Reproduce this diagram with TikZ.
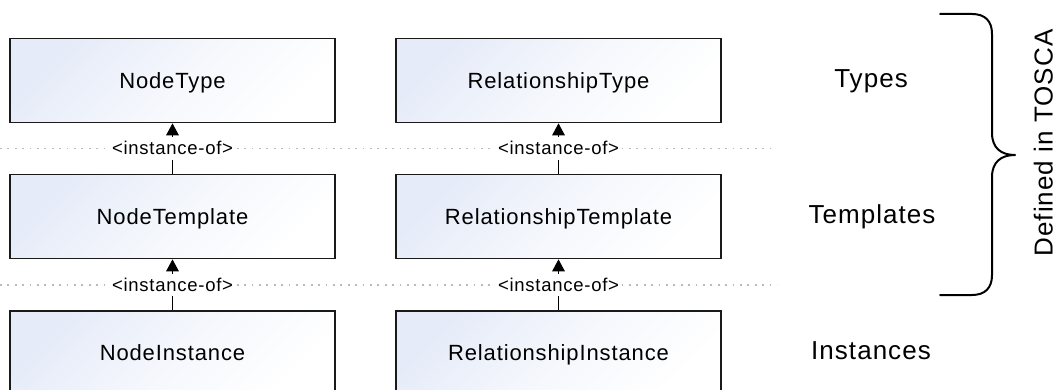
\documentclass[tikz,border=0pt]{standalone}
\usepackage{fontspec}
\setmainfont{Liberation Sans}[LetterSpace=4]
\usetikzlibrary{arrows.meta,calc}
\definecolor{boxtint}{RGB}{229,235,248}
\definecolor{boxline}{RGB}{26,26,26}
\definecolor{dotgray}{RGB}{185,185,185}
\begin{document}
\begin{tikzpicture}[x=1pt,y=-1pt,
  entity/.style={draw=boxline, line width=1.6pt, top color=boxtint, bottom color=white,
    middle color=white!60!boxtint, shading angle=45, minimum width=325pt,
    minimum height=84pt, inner sep=0pt,
    font=\fontsize{22}{25}\selectfont, text height=15.6pt, text depth=0pt},
  instof/.style={draw=black, line width=1.4pt, -{Triangle[length=12pt,width=12.5pt]}},
  lbl/.style={fill=white, font=\fontsize{18.5}{21}\selectfont, inner xsep=2pt,
    inner ysep=4pt, text height=13.5pt, text depth=1pt},
  dotline/.style={draw=dotgray, line width=1.8pt, dash pattern=on 1.8pt off 5.6pt},
  rowlbl/.style={font=\fontsize{26}{29}\selectfont, anchor=base},
  brace/.style={draw=black, line width=2pt, line join=round, line cap=round}]
\clip (0,0) rectangle (1056,390);

% element boxes: types, templates, instances
\node[entity] (ntype) at (172.5,80.5)  {NodeType};
\node[entity] (rtype) at (558.5,80.5)  {RelationshipType};
\node[entity] (ntpl)  at (172.5,216.5) {NodeTemplate};
\node[entity] (rtpl)  at (558.5,216.5) {RelationshipTemplate};
\node[entity] (ninst) at (172.5,353)   {NodeInstance};
\node[entity] (rinst) at (558.5,353)   {RelationshipInstance};

% dotted layer separators
\coordinate (dotL) at (0,0);
\coordinate (dotR) at (777,0);
\coordinate (m1) at ($(ntpl.north)!0.5!(ntype.south)$);
\coordinate (m2) at ($(ninst.north)!0.5!(ntpl.south)$);
\draw[dotline] (dotL |- m1) -- (dotR |- m1);
\draw[dotline] (dotL |- m2) -- (dotR |- m2);

% instance-of relations
\draw[instof] (ntpl.north)  -- node[lbl] {<instance-of>} (ntype.south);
\draw[instof] (rtpl.north)  -- node[lbl] {<instance-of>} (rtype.south);
\draw[instof] (ninst.north) -- node[lbl] {<instance-of>} (ntpl.south);
\draw[instof] (rinst.north) -- node[lbl] {<instance-of>} (rtpl.south);

% layer names
\node[rowlbl] (ltypes) at (871,87.7)  {Types};
\node[rowlbl] (ltpl)   at (872,223.5) {Templates};
\node[rowlbl] (linst)  at (871,359.3) {Instances};

% curly brace over types and templates
\draw[brace] (940,14) -- (972,14)
  .. controls (985,14) and (992,21) .. (992,34)
  -- (992,133)
  .. controls (992,148) and (1001,155) .. (1015,155)
  .. controls (1001,155) and (992,162) .. (992,177)
  -- (992,275)
  .. controls (992,288) and (985,295) .. (972,295)
  -- (940,295);
\node[rotate=90, anchor=base, inner sep=0.5pt, font=\fontsize{26}{29}\selectfont]
  (tosca) at (1052.5,143) {Defined in TOSCA};
\end{tikzpicture}
\end{document}
